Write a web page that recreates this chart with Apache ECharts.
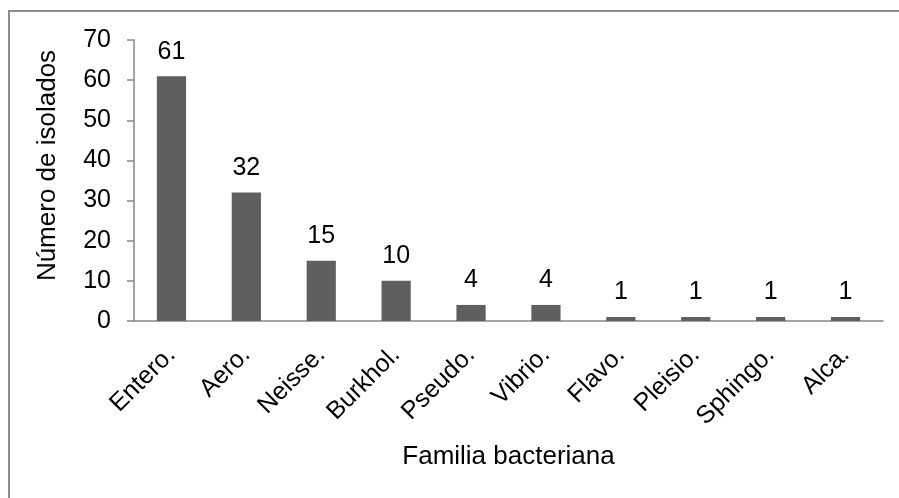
<!DOCTYPE html>
<html>
<head>
<meta charset="utf-8">
<script src="https://cdn.jsdelivr.net/npm/echarts@6/dist/echarts.min.js"></script>
<style>
  html, body { margin: 0; padding: 0; background: #fff; }
  #chart { width: 899px; height: 498px; }
</style>
</head>
<body>
<div id="chart"></div>
<script>
// Bacterial families and number of isolates per family
const families = ['Entero.', 'Aero.', 'Neisse.', 'Burkhol.', 'Pseudo.', 'Vibrio.', 'Flavo.', 'Pleisio.', 'Sphingo.', 'Alca.'];
const isolates = [61, 32, 15, 10, 4, 4, 1, 1, 1, 1];
const yTicks = [0, 10, 20, 30, 40, 50, 60, 70];

const font = '"Liberation Sans", Arial, sans-serif';
const axisGray = '#868686';

const chart = echarts.init(document.getElementById('chart'), null, { renderer: 'canvas' });
chart.setOption({
  animation: false,
  backgroundColor: '#ffffff',
  graphic: [{
    type: 'rect',
    shape: { x: 9, y: 11, width: 900, height: 500 },
    style: { fill: 'none', stroke: '#8c8c8c', lineWidth: 2 }
  }],
  grid: { left: 134, right: 16, top: 40, bottom: 177, containLabel: false },
  xAxis: {
    type: 'category',
    data: families,
    name: 'Familia bacteriana',
    nameLocation: 'middle',
    nameGap: 123,
    nameTextStyle: { fontFamily: font, fontSize: 26, color: '#000' },
    axisLine: { lineStyle: { color: axisGray, width: 1.5 } },
    axisTick: { show: false },
    axisLabel: {
      rotate: 45,
      interval: 0,
      margin: 30,
      fontFamily: font,
      fontSize: 25,
      color: '#000'
    }
  },
  yAxis: {
    type: 'value',
    min: yTicks[0],
    max: yTicks[yTicks.length - 1],
    interval: 10,
    name: 'Número de isolados',
    nameLocation: 'middle',
    nameGap: 73,
    nameRotate: 90,
    nameTextStyle: { fontFamily: font, fontSize: 26, color: '#000', padding: [0, 0, 0, 30] },
    splitLine: { show: false },
    axisLine: { show: true, lineStyle: { color: axisGray, width: 1.5 } },
    axisTick: { show: true, inside: false, length: 7, lineStyle: { color: axisGray, width: 1.5 } },
    axisLabel: { fontFamily: font, fontSize: 25, color: '#000', margin: 23 }
  },
  series: [{
    type: 'bar',
    data: isolates,
    barWidth: '39%',
    itemStyle: { color: '#5f5f5f' },
    label: {
      show: true,
      position: 'top',
      distance: 12,
      fontFamily: font,
      fontSize: 25,
      color: '#000'
    }
  }]
});
</script>
</body>
</html>
